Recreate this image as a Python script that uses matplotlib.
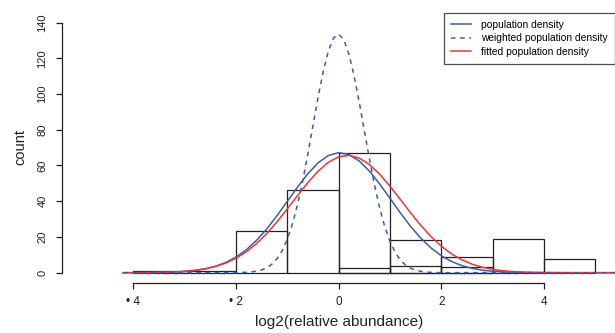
import numpy as np
import matplotlib.pyplot as plt

plt.rcParams['font.family'] = ['Liberation Sans', 'DejaVu Sans']

# histogram (count per bin, log2 relative abundance)
bin_left = [-2, -1, 0, 1, 2, 3, 4]
bin_count = [23.3, 46.1, 67, 18.1, 9, 19, 7.5]

# small overlaid histogram
small_left = [-4, 0, 1, 2]
small_width = [2, 1, 1, 1]
small_count = [1.1, 2.4, 3.6, 3.0]

# density curves (scaled to counts)
x_curve = [-4.2, -4.0, -3.8, -3.6, -3.4, -3.2, -3.0, -2.8, -2.6, -2.4, -2.2,
           -2.0, -1.8, -1.6, -1.4, -1.2, -1.0, -0.8, -0.6, -0.4, -0.2, 0.0,
           0.2, 0.4, 0.6, 0.8, 1.0, 1.2, 1.4, 1.6, 1.8, 2.0, 2.2, 2.4, 2.6,
           2.8, 3.0, 3.2, 3.4, 3.6, 3.8, 4.0, 4.2, 4.4, 4.6, 4.8, 5.0, 5.2, 5.4]
pop_density = [0.01, 0.02, 0.05, 0.10, 0.19, 0.38, 0.70, 1.26, 2.17, 3.60, 5.72,
               8.74, 12.83, 18.10, 24.52, 31.93, 39.94, 48.01, 55.45, 61.53, 65.59, 67.19,
               66.12, 62.52, 56.80, 49.57, 41.58, 33.50, 25.93, 19.29, 13.78, 9.46, 6.24, 3.96, 2.41,
               1.41, 0.79, 0.43, 0.22, 0.11, 0.05, 0.02, 0.01, 0, 0, 0, 0, 0, 0]
fit_density = [0.01, 0.03, 0.06, 0.12, 0.23, 0.42, 0.75, 1.30, 2.16, 3.48, 5.39,
               8.08, 11.68, 16.30, 21.94, 28.50, 35.73, 43.22, 50.46, 56.86, 61.82, 64.86,
               65.67, 64.17, 60.51, 55.06, 48.35, 40.98, 33.52, 26.45, 20.14, 14.80, 10.50, 7.19, 4.75,
               3.03, 1.86, 1.10, 0.63, 0.35, 0.19, 0.10, 0.05, 0.02, 0.01, 0, 0, 0, 0]

x_weighted = [-4.2, -2.0, -1.9, -1.8, -1.7, -1.6, -1.5, -1.4, -1.3, -1.2, -1.1,
              -1.0, -0.9, -0.8, -0.7, -0.6, -0.5, -0.4, -0.3, -0.2, -0.1, 0.0,
              0.1, 0.2, 0.3, 0.4, 0.5, 0.6, 0.7, 0.8, 0.9, 1.0, 1.1, 1.2, 1.3,
              1.4, 1.5, 1.6, 1.7, 1.8, 1.9, 2.0, 5.4]
weighted_density = [0, 0.05, 0.11, 0.22, 0.44, 0.85, 1.57, 2.80, 4.79, 7.86, 12.40,
                    18.80, 27.38, 38.31, 51.52, 66.55, 82.60, 98.48, 112.83, 124.20, 131.35, 133.47,
                    130.31, 122.23, 110.15, 95.39, 79.35, 63.43, 48.71, 35.94, 25.49, 17.35, 11.36, 7.14, 4.31,
                    2.50, 1.40, 0.75, 0.38, 0.19, 0.09, 0.04, 0]

x_ticks = [-4, -2, 0, 2, 4]
x_tick_labels = ['\u2022 4', '\u2022 2', '0', '2', '4']
y_ticks = [0, 20, 40, 60, 80, 100, 120, 140]

blue = '#3c5ba8'
red = '#ee3436'
ink = '#222222'

fig = plt.figure(figsize=(6.15, 3.33), dpi=100)
ax = fig.add_axes([62 / 615, 1 - 283.3 / 333, 553 / 615, 271.3 / 333])

ax.bar(bin_left, bin_count, width=1, align='edge', fill=False,
       edgecolor=ink, linewidth=0.9)
ax.bar(small_left, small_count, width=small_width, align='edge', fill=False,
       edgecolor=ink, linewidth=0.9)

ax.plot(x_curve, pop_density, color=blue, lw=1.1, label='population density')
ax.plot(x_curve, fit_density, color=red, lw=1.1, label='fitted population density')
ax.plot(x_weighted, weighted_density, color=blue, lw=1.1, linestyle=(0, (3, 3)),
        label='weighted population density')

ax.set_xlim(-5.389, 5.381)
ax.set_ylim(-5.93, 145.9)

for side in ['top', 'right']:
    ax.spines[side].set_visible(False)
ax.spines['left'].set_bounds(0, 140)
ax.spines['bottom'].set_bounds(-4, 4)
for side in ['left', 'bottom']:
    ax.spines[side].set_color(ink)
    ax.spines[side].set_linewidth(0.9)

ax.set_xticks(x_ticks)
ax.set_xticklabels(x_tick_labels)
ax.set_yticks(y_ticks)
ax.tick_params(axis='x', direction='out', length=4, width=0.9, pad=5,
               labelsize=8.5, colors=ink)
ax.tick_params(axis='y', direction='out', length=4, width=0.9, pad=6.5,
               labelsize=8, colors=ink, labelrotation=90)
for lbl in ax.get_yticklabels():
    lbl.set_va('center')

ax.set_xlabel('log2(relative abundance)', fontsize=11, color=ink)
ax.set_ylabel('count', fontsize=10.5, color=ink)
ax.xaxis.set_label_coords(0.5004, -0.117)
ax.yaxis.set_label_coords(-0.062, 0.502)

handles, labels = ax.get_legend_handles_labels()
order = [0, 2, 1]
leg = ax.legend([handles[i] for i in order], [labels[i] for i in order],
                loc='upper left', bbox_to_anchor=(444.3 / 615, 1 - 12.7 / 333),
                bbox_transform=fig.transFigure, fontsize=7.4, frameon=True,
                fancybox=False, borderaxespad=0, borderpad=0.7,
                handlelength=1.85, handletextpad=1.0, labelspacing=0.35)
leg.get_frame().set_edgecolor(ink)
leg.get_frame().set_linewidth(0.9)

plt.savefig('out.png', dpi=100)
